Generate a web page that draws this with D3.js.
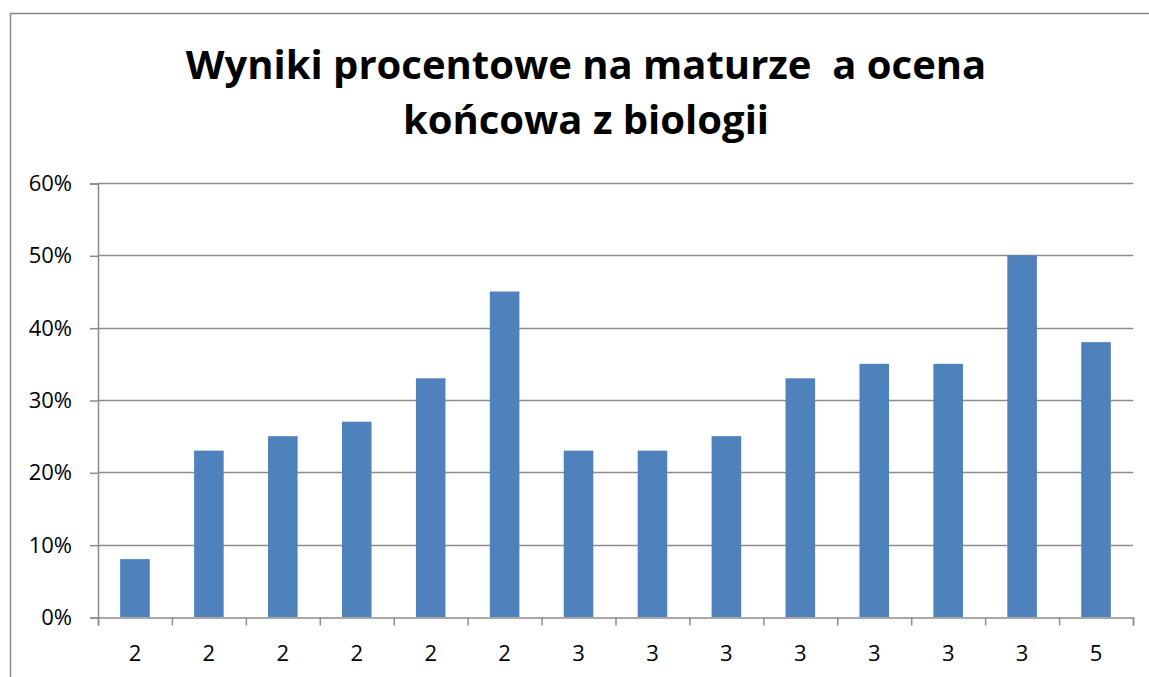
<!DOCTYPE html>
<html>
<head>
<meta charset="utf-8">
<script src="https://cdn.jsdelivr.net/npm/d3@7"></script>
<style>
  body { margin: 0; background: #fff; }
  svg { display: block; }
</style>
</head>
<body>
<div id="chart"></div>
<script>
const titleLines = ['Wyniki procentowe na maturze  a ocena', 'końcowa z biologii'];
const grades = ['2', '2', '2', '2', '2', '2', '3', '3', '3', '3', '3', '3', '3', '5'];
const scores = [0.08, 0.23, 0.25, 0.27, 0.33, 0.45, 0.23, 0.23, 0.25, 0.33, 0.35, 0.35, 0.50, 0.38];
const yTicks = [0, 0.1, 0.2, 0.3, 0.4, 0.5, 0.6];

const w = 1149;
const h = 677;
const plotLeft = 98, plotRight = 1133, plotTop = 183, plotBottom = 617;
const gridColor = '#8c8c8c';
const barColor = '#4f81bd';

const svg = d3.select('#chart').append('svg').attr('width', w).attr('height', h);

// outer chart frame (runs off the right and bottom edges)
svg.append('rect')
   .attr('x', 10.5).attr('y', 13.5)
   .attr('width', 1300).attr('height', 800)
   .attr('fill', 'none')
   .attr('stroke', '#868686')
   .attr('stroke-width', 1.5);

svg.append('text')
   .attr('x', 586)
   .attr('text-anchor', 'middle')
   .style('font-family', '"Open Sans", sans-serif')
   .style('font-weight', 'bold')
   .style('font-size', '40px')
   .style('white-space', 'pre')
   .selectAll('tspan')
   .data(titleLines)
   .enter()
   .append('tspan')
   .attr('x', 586)
   .attr('y', (d, i) => 79 + i * 55)
   .text(d => d);

const xScale = d3.scaleBand()
                 .domain(d3.range(grades.length))
                 .range([plotLeft, plotRight]);

const yScale = d3.scaleLinear()
                 .domain([0, 0.6])
                 .range([plotBottom, plotTop]);

// gridlines
svg.append('g')
   .selectAll('line')
   .data(yTicks.slice(1))
   .enter()
   .append('line')
   .attr('x1', plotLeft)
   .attr('x2', plotRight)
   .attr('y1', d => Math.round(yScale(d)) + 0.5)
   .attr('y2', d => Math.round(yScale(d)) + 0.5)
   .attr('stroke', gridColor)
   .attr('stroke-width', 1.5);

// bars
const step = xScale.step();
svg.append('g')
   .selectAll('rect')
   .data(scores)
   .enter()
   .append('rect')
   .attr('x', (d, i) => xScale(i) + step * 0.3)
   .attr('width', step * 0.4)
   .attr('y', d => yScale(d))
   .attr('height', d => plotBottom - yScale(d))
   .attr('fill', barColor);

// y axis
const yAxis = d3.axisLeft(yScale)
                .tickValues(yTicks)
                .tickSize(8)
                .tickPadding(18)
                .tickFormat(d3.format('.0%'));

const yg = svg.append('g').attr('transform', `translate(${plotLeft}, 0.5)`).call(yAxis);

// x axis: ticks on category boundaries
const edgeScale = d3.scaleLinear().domain([0, grades.length]).range([plotLeft, plotRight]);
const xAxis = d3.axisBottom(edgeScale)
                .tickValues(d3.range(grades.length + 1))
                .tickSize(8)
                .tickFormat('');

const xg = svg.append('g').attr('transform', `translate(0, ${plotBottom + 0.5})`).call(xAxis);

// category labels
svg.append('g')
   .selectAll('text')
   .data(grades)
   .enter()
   .append('text')
   .attr('x', (d, i) => xScale(i) + step / 2)
   .attr('y', 661)
   .attr('text-anchor', 'middle')
   .style('font-family', '"Open Sans", sans-serif')
   .style('font-size', '22px')
   .attr('fill', '#000')
   .text(d => d);

[yg, xg].forEach(g => {
    g.select('.domain').attr('stroke', gridColor).attr('stroke-width', 1.5);
    g.selectAll('.tick line').attr('stroke', gridColor).attr('stroke-width', 1.5);
    g.selectAll('.tick text')
     .style('font-family', '"Open Sans", sans-serif')
     .style('font-size', '22px')
     .attr('fill', '#000');
});
</script>
</body>
</html>
